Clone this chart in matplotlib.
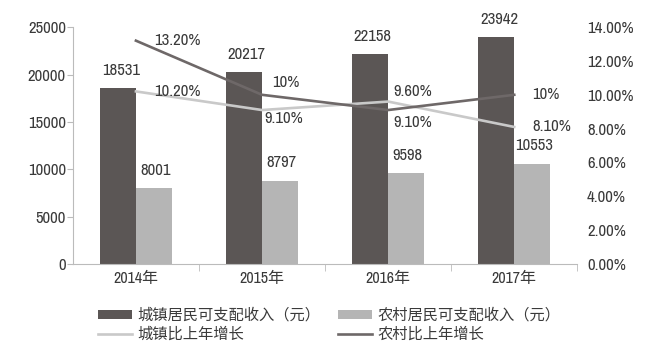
import matplotlib
matplotlib.use("Agg")
import matplotlib.pyplot as plt
import numpy as np

plt.rcParams['font.family'] = ['Archivo Narrow', 'Noto Sans CJK SC', 'DejaVu Sans']

years = ['2014年', '2015年', '2016年', '2017年']
urban_income = [18531, 20217, 22158, 23942]
rural_income = [8001, 8797, 9598, 10553]
urban_growth = [10.2, 9.1, 9.6, 8.1]
rural_growth = [13.2, 10.0, 9.1, 10.0]
urban_growth_lbl = ['10.20%', '9.10%', '9.60%', '8.10%']
rural_growth_lbl = ['13.20%', '10%', '9.10%', '10%']

dark_bar = '#5b5655'
light_bar = '#b5b5b5'
light_line = '#c9c9c9'
dark_line = '#6e6868'
txt = '#3a3a3a'
fs = 12      # numbers
fs_cn = 11   # legend text

fig = plt.figure(figsize=(6.45, 3.57), dpi=100)
ax = fig.add_axes([0.113, 0.2605, 0.782, 0.6635])
ax2 = ax.twinx()

x = np.arange(len(years))
w = 0.286
b1 = ax.bar(x - w / 2, urban_income, w, color=dark_bar)
b2 = ax.bar(x + w / 2, rural_income, w, color=light_bar)

for i in range(len(x)):
    ax.annotate(str(urban_income[i]), (x[i] - w / 2, urban_income[i]), xytext=(2, 13),
                textcoords='offset points', ha='center', va='center', fontsize=fs, color=txt)
    ax.annotate(str(rural_income[i]), (x[i] + w / 2, rural_income[i]), xytext=(1, 13),
                textcoords='offset points', ha='center', va='center', fontsize=fs, color=txt)

l1, = ax2.plot(x, urban_growth, color=light_line, lw=1.9)
l2, = ax2.plot(x, rural_growth, color=dark_line, lw=1.9)

# label offsets (points) for growth values
u_off = [(13, 0), (2, -6), (4, 7), (13, 0)]
r_off = [(13, 0), (7, 9), (4, -9), (13, 0)]
for i in range(len(x)):
    ax2.annotate(urban_growth_lbl[i], (x[i], urban_growth[i]), xytext=u_off[i],
                 textcoords='offset points', ha='left', va='center', fontsize=fs, color=txt)
    ax2.annotate(rural_growth_lbl[i], (x[i], rural_growth[i]), xytext=r_off[i],
                 textcoords='offset points', ha='left', va='center', fontsize=fs, color=txt)

ax.set_xlim(-0.5, 3.5)
ax.set_ylim(0, 25000)
ax.set_yticks(range(0, 25001, 5000))
ax2.set_ylim(0, 14)
ax2.set_yticks(range(0, 15, 2))
ax2.set_yticklabels(['%.2f%%' % v for v in range(0, 15, 2)])

ax.set_xticks(x)
ax.set_xticklabels(years)
ax.set_xticks([0.5, 1.5, 2.5, 3.5], minor=True)
ax.tick_params(axis='x', which='major', length=0, pad=5, labelsize=11.5, colors=txt)
ax.tick_params(axis='x', which='minor', length=5, color='#bbbbbb')
ax.tick_params(axis='y', length=4, color='#bbbbbb', labelsize=fs, labelcolor=txt, pad=1)
ax2.tick_params(axis='y', length=0, labelsize=fs, labelcolor=txt, pad=7)

for s in ['top', 'right']:
    ax.spines[s].set_visible(False)
    ax2.spines[s].set_visible(False)
ax2.spines['left'].set_visible(False)
ax2.spines['bottom'].set_visible(False)
ax.spines['left'].set_color('#bbbbbb')
ax.spines['bottom'].set_color('#bbbbbb')

fig.legend([b1, l1, b2, l2],
           ['城镇居民可支配收入（元）', '城镇比上年增长', '农村居民可支配收入（元）', '农村比上年增长'],
           loc='upper left', bbox_to_anchor=(0.152, 0.137), ncol=2, frameon=False,
           fontsize=fs_cn, handlelength=2.25, handleheight=0.5, handletextpad=0.35,
           columnspacing=1.1, labelspacing=0.3, borderpad=0, borderaxespad=0,
           labelcolor=txt)

fig.savefig('out.png', dpi=100)
